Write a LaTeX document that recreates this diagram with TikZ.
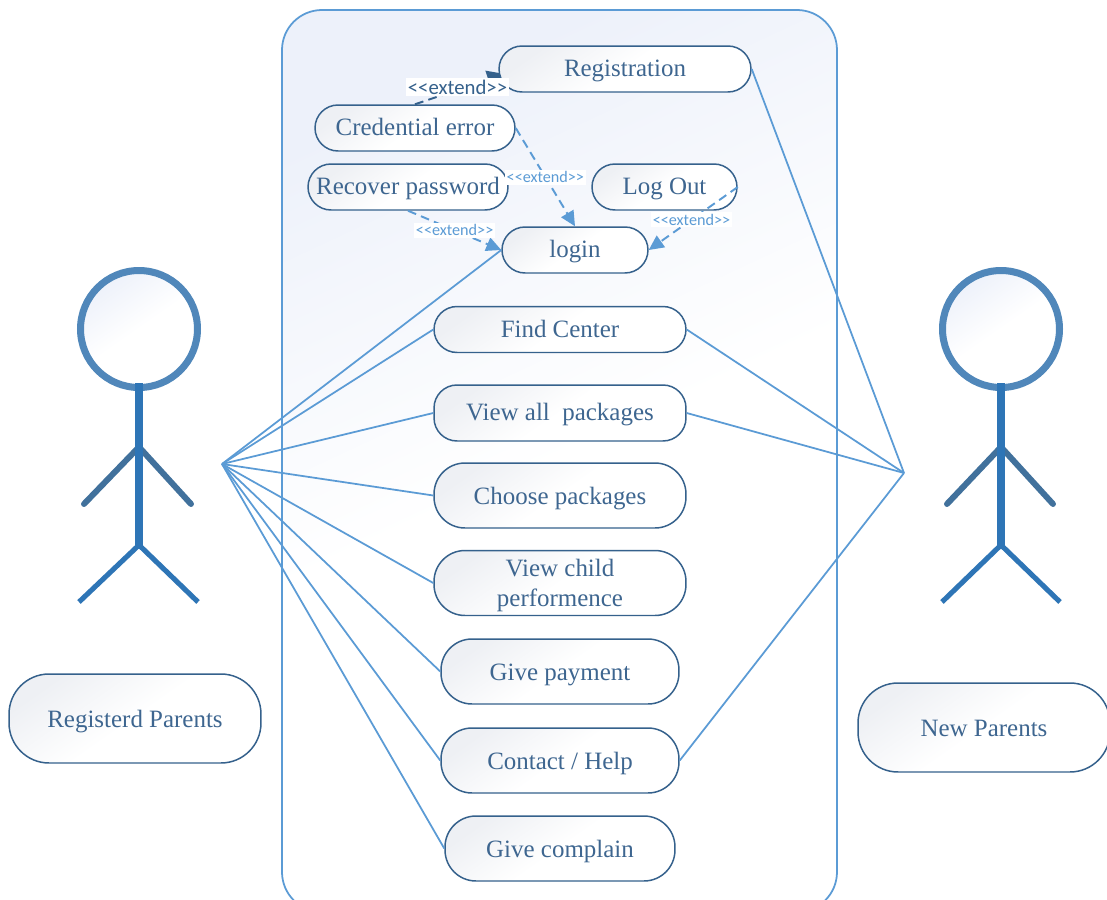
\documentclass[tikz,border=0pt]{standalone}
\usepackage{xcolor}
\usepackage{fontspec}
\setmainfont{Liberation Serif}
\newfontfamily\labelfont{Carlito}
\usetikzlibrary{arrows.meta, positioning}
\definecolor{edgeColor}{RGB}{91, 155, 213}
\definecolor{borderColor}{RGB}{53, 97, 140}
\definecolor{textColor}{RGB}{62, 102, 144}
\definecolor{grayFill}{RGB}{238, 240, 244}
\definecolor{blueFill}{RGB}{237, 241, 250}
\definecolor{headColor}{RGB}{80, 135, 186}
\definecolor{bodyColor}{RGB}{46, 117, 182}
\definecolor{armColor}{RGB}{65, 113, 156}

\begin{document}
\begin{tikzpicture}[
    x=0.02cm, y=-0.02cm,
    usecase/.style={
        rectangle,
        draw=borderColor,
        line width=0.85pt,
        top color=grayFill,
        bottom color=white,
        middle color=white,
        shading angle=35,
        rounded corners=0.46cm,
        align=center,
        inner sep=0pt,
        text=textColor,
        font=\fontsize{14.2}{17.2}\selectfont
    },
    oneline/.style={text height=10.5pt, text depth=1.5pt},
    lowline/.style={text height=11pt, text depth=1pt},
    smallcase/.style={usecase, oneline, minimum height=0.92cm},
    twocase/.style={usecase, minimum height=1.3cm, rounded corners=0.62cm},
    bigcase/.style={twocase, lowline},
    rolebox/.style={usecase, lowline, minimum width=5.04cm, minimum height=1.78cm, rounded corners=0.8cm},
    link/.style={edgeColor, line width=1pt},
    extendline/.style={edgeColor, line width=1.1pt, dash pattern=on 5pt off 3pt, -{Triangle[length=8.5pt,width=8pt]}},
    extendtag/.style={fill=white, inner sep=1pt, text=edgeColor, font=\labelfont\fontsize{9.2}{11}\selectfont}
]
    \useasboundingbox (0,0) rectangle (1107,900);

    % System boundary
    \path[draw=edgeColor, line width=1pt, top color=blueFill, bottom color=white, middle color=white, shading angle=25, rounded corners=0.8cm]
        (282,10) rectangle (837,912);

    % Actors
    \foreach \n/\x/\la/\ra/\ll/\rl in {left/139/84/191/79/198, right/1001/947/1053/942/1060} {
        \node[circle, draw=headColor, line width=4pt, minimum size=2.34cm, inner sep=0pt,
              top color=blueFill, bottom color=white, middle color=white, shading angle=35] (head\n) at (\x,329) {};
        \draw[armColor, line width=3.4pt, line cap=round] (\la,504) -- (\x,447) -- (\ra,504);
        \draw[bodyColor, line width=2.9pt] (\ll,602) -- (\x,545) -- (\rl,602);
        \draw[bodyColor, line width=5pt] (\x,383) -- (\x,545);
    }

    % Use cases
    \node[smallcase, minimum width=4cm] (credential) at (415,128) {Credential error};
    \coordinate (regtip) at (505,74);
    \draw[extendline, borderColor, -{Triangle[length=10pt,width=10.5pt]}] (credential.north) -- (regtip);
    \node[smallcase, minimum width=5.04cm] (registration) at (625,69) {Registration};
    \node[smallcase, minimum width=4cm] (recover) at (408,187) {Recover password};
    \node[smallcase, minimum width=2.9cm] (logout) at (664.5,187) {Log Out};
    \node[smallcase, minimum width=2.92cm] (login) at (575,250) {login};
    \node[smallcase, minimum width=5.04cm] (findcenter) at (560,329.5) {Find Center};
    \node[usecase, oneline, minimum width=5.04cm, minimum height=1.12cm] (viewall) at (560,413) {View all\ \ packages};
    \node[bigcase, minimum width=5.04cm] (choose) at (560,495.5) {Choose packages};
    \node[twocase, text height=30pt, text depth=3pt, minimum width=5.04cm] (viewchild) at (560,583) {View child\\performence};
    \node[bigcase, minimum width=4.76cm] (payment) at (560,671.5) {Give payment};
    \node[bigcase, minimum width=4.76cm] (contact) at (560,760.5) {Contact / Help};
    \node[bigcase, minimum width=4.6cm] (complain) at (560,848.5) {Give complain};

    % Roles
    \node[rolebox] (registered) at (135,718.5) {Registerd Parents};
    \node[rolebox] (newparents) at (984,727.5) {New Parents};

    % Hubs
    \coordinate (lefthub) at (222,464);
    \coordinate (righthub) at (904,473);

    % Links
    \foreach \t in {login, findcenter, viewall, choose, viewchild, payment, contact, complain} {
        \draw[link] (lefthub) -- (\t.west);
    }
    \foreach \t in {registration, findcenter, viewall, contact} {
        \draw[link] (righthub) -- (\t.east);
    }

    % Extends
    \node[extendtag, text=borderColor, font=\labelfont\fontsize{11.8}{14}\selectfont] (tagreg) at (457.5,87) {<<extend>>};
    \draw[extendline] (credential.east) -- node[extendtag, pos=0.5] (tagcred) {<<extend>>} (login.north);
    \draw[extendline] (recover.south) -- node[extendtag, pos=0.5] (tagrec) {<<extend>>} (login.west);
    \draw[extendline] (logout.east) -- node[extendtag, pos=0.52] (taglog) {<<extend>>} (login.east);
\end{tikzpicture}
\end{document}
